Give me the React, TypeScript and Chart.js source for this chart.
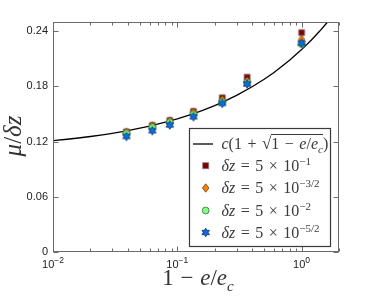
import React, { useEffect, useRef } from 'react';
import { Chart, registerables } from 'chart.js';

Chart.register(...registerables);

// ---- data ----
const X_VALUES = [0.039, 0.063, 0.087, 0.135, 0.23, 0.365, 1.0];
const MU_DZ_A = [0.1307, 0.1376, 0.143, 0.1528, 0.1677, 0.19, 0.2385]; // dz = 5e-1
const MU_DZ_B = [0.13, 0.137, 0.1423, 0.1517, 0.1655, 0.186, 0.231]; // dz = 5e-3/2
const MU_DZ_C = [0.1289, 0.1354, 0.1408, 0.1495, 0.163, 0.184, 0.226]; // dz = 5e-2
const MU_DZ_D = [0.1256, 0.1318, 0.138, 0.147, 0.1615, 0.1826, 0.227]; // dz = 5e-5/2
const FIT_C = 0.11;
const FIT_X = [0.01, 0.013, 0.016, 0.02, 0.025, 0.03, 0.04, 0.05, 0.06, 0.08, 0.1, 0.13, 0.16, 0.2, 0.25, 0.3, 0.4, 0.5, 0.6, 0.8, 1, 1.2, 1.4, 1.6, 1.8, 2];
const Y_TICKS = [0, 0.06, 0.12, 0.18, 0.24];
const X_MAJOR = [0.01, 0.1, 1];
const X_TICK_EXP = ['\u22122', '\u22121', '0'];
const X_MIN = 0.01;
const X_MAX = 2;
const Y_MIN = 0;
const Y_MAX = 0.25;

type Drawer = (ctx: CanvasRenderingContext2D, cx: number, cy: number) => void;

const drawSquare: Drawer = (ctx, cx, cy) => {
  ctx.beginPath();
  ctx.rect(cx - 3, cy - 3, 6, 6);
  ctx.fillStyle = '#800000';
  ctx.fill();
  ctx.lineWidth = 0.8;
  ctx.strokeStyle = '#7a7a7a';
  ctx.stroke();
};
const drawDiamond: Drawer = (ctx, cx, cy) => {
  ctx.beginPath();
  ctx.moveTo(cx, cy - 4.2);
  ctx.lineTo(cx + 3.2, cy);
  ctx.lineTo(cx, cy + 4.2);
  ctx.lineTo(cx - 3.2, cy);
  ctx.closePath();
  ctx.fillStyle = '#ff8000';
  ctx.fill();
  ctx.lineWidth = 0.8;
  ctx.strokeStyle = '#6e3a00';
  ctx.stroke();
};
const drawCircle: Drawer = (ctx, cx, cy) => {
  ctx.beginPath();
  ctx.arc(cx, cy, 3.4, 0, Math.PI * 2);
  ctx.fillStyle = '#80ff80';
  ctx.fill();
  ctx.lineWidth = 0.8;
  ctx.strokeStyle = '#3d6b3d';
  ctx.stroke();
};
const drawHexagram: Drawer = (ctx, cx, cy) => {
  const R = 4.3;
  const r = R / Math.sqrt(3);
  ctx.beginPath();
  for (let k = 0; k < 12; k++) {
    const ang = (-90 + k * 30) * Math.PI / 180;
    const rad = k % 2 === 0 ? R : r;
    const px = cx + rad * Math.cos(ang);
    const py = cy + rad * Math.sin(ang);
    if (k === 0) ctx.moveTo(px, py); else ctx.lineTo(px, py);
  }
  ctx.closePath();
  ctx.fillStyle = '#0a6ed8';
  ctx.fill();
  ctx.lineWidth = 0.8;
  ctx.strokeStyle = '#0a3570';
  ctx.stroke();
};

function makeMarker(draw: Drawer): HTMLCanvasElement {
  const c = document.createElement('canvas');
  c.width = 12;
  c.height = 12;
  const ctx = c.getContext('2d')!;
  draw(ctx, 6, 6);
  return c;
}

const SERIES = [
  { data: MU_DZ_A, draw: drawSquare, order: 4 },
  { data: MU_DZ_B, draw: drawDiamond, order: 3 },
  { data: MU_DZ_C, draw: drawCircle, order: 2 },
  { data: MU_DZ_D, draw: drawHexagram, order: 1 },
];

// legend box layout (pixels)
const LEG = { left: 189, top: 128, width: 142, height: 119 };
const LEG_ROWS = [144, 165.7, 188, 210.5, 232.5];
const LEG_MARK_X = 205.7;
const LEG_TEXT_X = 221.5;

const serif = '"Liberation Serif", "Times New Roman", serif';

export default function App() {
  const ref = useRef<HTMLCanvasElement | null>(null);

  useEffect(() => {
    const canvas = ref.current!;
    const frame = {
      id: 'frameTicks',
      afterDatasetsDraw(chart: any) {
        const { ctx, chartArea } = chart;
        const xs = chart.scales.x;
        const ys = chart.scales.y;
        const l = Math.round(chartArea.left) + 0.5;
        const r = Math.round(chartArea.right) - 0.5;
        const t = Math.round(chartArea.top) + 0.5;
        const b = Math.round(chartArea.bottom) - 0.5;
        ctx.save();
        ctx.strokeStyle = '#6a6a6a';
        ctx.lineWidth = 1;
        ctx.strokeRect(l, t, r - l, b - t);
        ctx.beginPath();
        const xTick = (v: number, len: number) => {
          const px = Math.round(xs.getPixelForValue(v)) + 0.5;
          ctx.moveTo(px, b); ctx.lineTo(px, b - len);
          ctx.moveTo(px, t); ctx.lineTo(px, t + len);
        };
        X_MAJOR.forEach((d) => {
          xTick(d, 5);
          for (let k = 2; k <= 9; k++) {
            const v = k * d;
            if (v <= X_MAX + 1e-9) xTick(v, 3);
          }
        });
        Y_TICKS.forEach((v) => {
          const py = Math.round(ys.getPixelForValue(v)) + 0.5;
          ctx.moveTo(l, py); ctx.lineTo(l + 5, py);
          ctx.moveTo(r, py); ctx.lineTo(r - 5, py);
        });
        ctx.stroke();

        // x tick labels 10^n
        ctx.fillStyle = '#222';
        ctx.textBaseline = 'alphabetic';
        ctx.textAlign = 'left';
        X_MAJOR.forEach((v, i) => {
          const px = xs.getPixelForValue(v);
          ctx.font = '11px "Liberation Sans", Arial, sans-serif';
          const w1 = ctx.measureText('10').width;
          ctx.font = '8.5px "Liberation Sans", Arial, sans-serif';
          const w2 = ctx.measureText(X_TICK_EXP[i]).width;
          const start = px - (w1 + w2) / 2;
          ctx.font = '11px "Liberation Sans", Arial, sans-serif';
          ctx.fillText('10', start, 268);
          ctx.font = '8.5px "Liberation Sans", Arial, sans-serif';
          ctx.fillText(X_TICK_EXP[i], start + w1, 263);
        });

        // legend box + symbols
        ctx.fillStyle = '#ffffff';
        ctx.fillRect(LEG.left, LEG.top, LEG.width, LEG.height);
        ctx.strokeStyle = '#3a3a3a';
        ctx.lineWidth = 1.2;
        ctx.strokeRect(LEG.left + 0.5, LEG.top + 0.5, LEG.width - 1, LEG.height - 1);
        ctx.beginPath();
        ctx.strokeStyle = '#000';
        ctx.lineWidth = 1.3;
        ctx.moveTo(LEG.left + 4, LEG_ROWS[0]);
        ctx.lineTo(LEG.left + 24, LEG_ROWS[0]);
        ctx.stroke();
        SERIES.forEach((s, i) => s.draw(ctx, LEG_MARK_X, LEG_ROWS[i + 1]));
        ctx.restore();
      },
    };

    const chart = new Chart(canvas, {
      type: 'scatter',
      data: {
        datasets: [
          {
            label: 'fit',
            data: FIT_X.map((x) => ({ x, y: FIT_C * (1 + Math.sqrt(x)) })),
            showLine: true,
            borderColor: '#000',
            borderWidth: 1.3,
            pointRadius: 0,
            order: 10,
          } as any,
          ...SERIES.map((s) => ({
            label: 'dz',
            data: X_VALUES.map((x, i) => ({ x, y: s.data[i] })),
            pointStyle: makeMarker(s.draw),
            pointRadius: 6,
            order: s.order,
          })),
        ],
      },
      plugins: [frame],
      options: {
        animation: false,
        responsive: false,
        devicePixelRatio: 1,
        layout: { padding: { top: 22, right: 35, left: 0, bottom: 0 } },
        plugins: { legend: { display: false }, tooltip: { enabled: false } },
        scales: {
          x: {
            type: 'logarithmic',
            min: X_MIN,
            max: X_MAX,
            grid: { display: false },
            border: { display: false },
            ticks: { display: false },
            afterFit: (s: any) => { s.height = 44; },
          },
          y: {
            type: 'linear',
            min: Y_MIN,
            max: Y_MAX,
            grid: { display: false, drawTicks: false },
            border: { display: false },
            ticks: {
              padding: 5,
              color: '#222',
              font: { family: '"Liberation Sans", Arial, sans-serif', size: 11 },
              callback: (v: any) => (v === 0 ? '0' : Number(v).toFixed(2)),
            },
            afterBuildTicks: (s: any) => { s.ticks = Y_TICKS.map((v) => ({ value: v })); },
            afterFit: (s: any) => { s.width = 53; },
          },
        },
      } as any,
    });
    return () => chart.destroy();
  }, []);

  const supStyle: React.CSSProperties = { fontSize: 11, verticalAlign: 'super', lineHeight: 0 };
  const rowStyle = (y: number, size: number): React.CSSProperties => ({
    position: 'absolute', left: LEG_TEXT_X, top: y - 10, height: 20, lineHeight: '20px',
    fontFamily: serif, fontSize: size, color: '#3a3a3a', whiteSpace: 'nowrap',
  });
  const dzRow = (exp: string, y: number) => (
    <div style={{ ...rowStyle(y, 16), wordSpacing: 1.5 }}>
      <i>δz</i> = 5 × 10<span style={supStyle}>{exp}</span>
    </div>
  );

  return (
    <div style={{ position: 'absolute', left: 0, top: 0, width: 374, height: 296 }}>
      <canvas ref={ref} width={374} height={296} style={{ width: 374, height: 296, display: 'block' }} />
      {/* y title */}
      <div style={{
        position: 'absolute', left: 13, top: 136, width: 230, height: 26, lineHeight: '26px',
        transform: 'translate(-50%, -50%) rotate(-90deg)', textAlign: 'center',
        fontFamily: serif, fontSize: 25, color: '#333', whiteSpace: 'nowrap',
      }}>
        <i>μ</i>/<i>δz</i>
      </div>
      {/* x title */}
      <div style={{
        position: 'absolute', left: 53, top: 266, width: 290, height: 24, lineHeight: '24px',
        textAlign: 'center', fontFamily: serif, fontSize: 23, color: '#333', whiteSpace: 'nowrap',
        wordSpacing: 1,
      }}>
        1 − <i>e</i>/<i>e</i><sub style={{ fontSize: 15, lineHeight: 0, fontStyle: 'italic' }}>c</sub>
      </div>
      {/* legend texts */}
      <div style={{ ...rowStyle(LEG_ROWS[0], 16), wordSpacing: 1.5 }}>
        <i>c</i>(1 + <span style={{ fontSize: 17 }}>√</span>
        <span style={{ borderTop: '1px solid #3a3a3a', paddingTop: 0 }}>
          1 − <i>e</i>/<i>e</i><sub style={{ fontSize: 11, lineHeight: 0, fontStyle: 'italic' }}>c</sub>
        </span>)
      </div>
      {dzRow('−1', LEG_ROWS[1])}
      {dzRow('−3/2', LEG_ROWS[2])}
      {dzRow('−2', LEG_ROWS[3])}
      {dzRow('−5/2', LEG_ROWS[4])}
    </div>
  );
}
